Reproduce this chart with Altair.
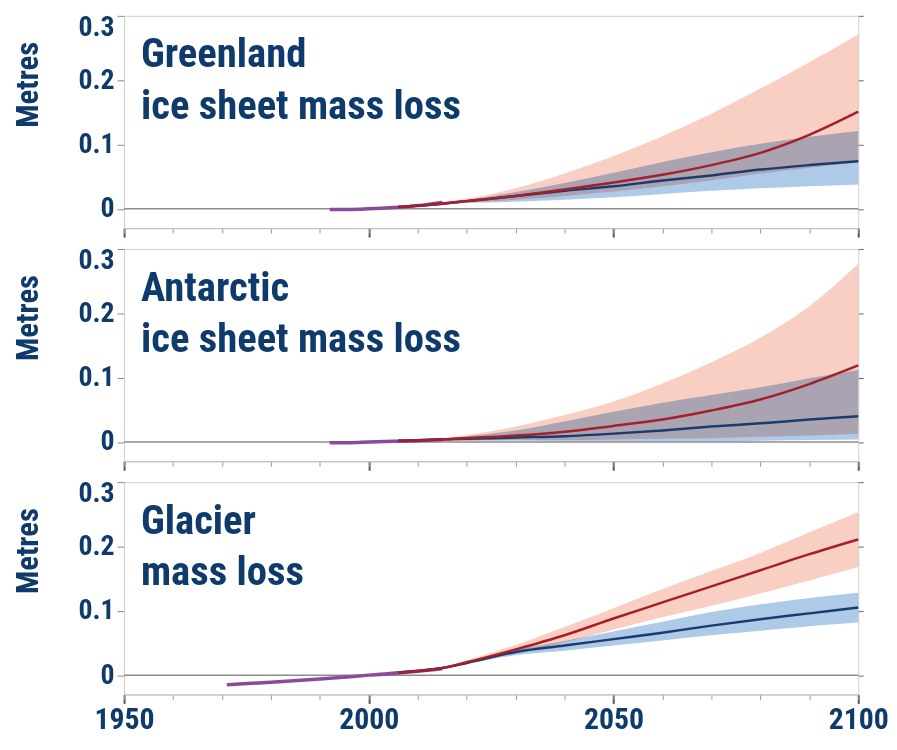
import altair as alt
import pandas as pd

FONT = "Liberation Sans Narrow, Arial Narrow, Roboto Condensed, sans-serif"
NAVY = "#0e3a6c"
RED_BAND = "#f9cfc3"
BLUE_BAND = "#aecae9"
RED_LINE = "#a51f2b"
BLUE_LINE = "#1c3a6e"
OBS = "#8b4b9a"

# projection years shared by all panels
proj_years = [2006, 2015, 2020, 2030, 2040, 2050, 2060, 2070, 2080, 2090, 2100]

# ---- Greenland ice sheet (metres) ----
gre_title = ["Greenland", "ice sheet mass loss"]
gre_obs_years = [1992, 1996, 2000, 2005, 2010, 2015]
gre_obs = [-0.001, -0.001, 0.0, 0.002, 0.005, 0.010]
gre_r_med = [0.003, 0.008, 0.012, 0.020, 0.030, 0.041, 0.053, 0.068, 0.087, 0.115, 0.151]
gre_r_hi = [0.003, 0.011, 0.016, 0.032, 0.055, 0.082, 0.113, 0.148, 0.187, 0.228, 0.271]
gre_r_lo = [0.003, 0.008, 0.010, 0.014, 0.020, 0.027, 0.035, 0.044, 0.055, 0.064, 0.073]
gre_b_med = [0.003, 0.008, 0.012, 0.020, 0.028, 0.035, 0.044, 0.052, 0.061, 0.068, 0.074]
gre_b_hi = [0.003, 0.010, 0.014, 0.026, 0.040, 0.056, 0.073, 0.088, 0.101, 0.112, 0.121]
gre_b_lo = [0.003, 0.007, 0.009, 0.011, 0.014, 0.018, 0.023, 0.028, 0.032, 0.035, 0.038]

# ---- Antarctic ice sheet ----
ant_title = ["Antarctic", "ice sheet mass loss"]
ant_obs_years = [1992, 1996, 2000, 2005, 2010, 2015]
ant_obs = [-0.001, -0.001, 0.0, 0.001, 0.002, 0.004]
ant_r_med = [0.002, 0.004, 0.006, 0.010, 0.016, 0.025, 0.035, 0.049, 0.066, 0.090, 0.119]
ant_r_hi = [0.002, 0.006, 0.011, 0.024, 0.042, 0.063, 0.091, 0.124, 0.162, 0.211, 0.277]
ant_r_lo = [0.002, 0.002, 0.002, 0.003, 0.003, 0.004, 0.005, 0.006, 0.008, 0.010, 0.013]
ant_b_med = [0.002, 0.004, 0.005, 0.007, 0.009, 0.013, 0.018, 0.024, 0.029, 0.035, 0.040]
ant_b_hi = [0.002, 0.005, 0.009, 0.018, 0.032, 0.047, 0.061, 0.073, 0.085, 0.099, 0.112]
ant_b_lo = [0.002, 0.003, 0.002, 0.002, 0.001, 0.001, 0.001, 0.001, 0.002, 0.003, 0.004]

# ---- Glaciers ----
gla_title = ["Glacier", "mass loss"]
gla_obs_years = [1971, 1980, 1990, 2000, 2010, 2015]
gla_obs = [-0.015, -0.011, -0.006, 0.0, 0.006, 0.010]
gla_r_med = [0.004, 0.011, 0.020, 0.040, 0.062, 0.088, 0.113, 0.138, 0.163, 0.188, 0.211]
gla_r_hi = [0.004, 0.012, 0.023, 0.047, 0.075, 0.104, 0.134, 0.162, 0.190, 0.222, 0.253]
gla_r_lo = [0.004, 0.010, 0.018, 0.034, 0.051, 0.071, 0.090, 0.108, 0.127, 0.147, 0.168]
gla_b_med = [0.004, 0.011, 0.019, 0.036, 0.046, 0.056, 0.066, 0.077, 0.087, 0.096, 0.105]
gla_b_hi = [0.004, 0.012, 0.021, 0.039, 0.053, 0.068, 0.083, 0.098, 0.110, 0.120, 0.128]
gla_b_lo = [0.004, 0.010, 0.017, 0.031, 0.038, 0.046, 0.054, 0.062, 0.069, 0.076, 0.082]

y_ticks = [0, 0.1, 0.2, 0.3]
x_minor = list(range(1950, 2101, 10))
x_major = [1950, 2000, 2050, 2100]

W, H = 740, 214


def panel(title_lines, obs_years, obs_vals, rm, rh, rl, bm, bh, bl, show_x_labels):
    proj = pd.DataFrame({"year": proj_years, "rm": rm, "rh": rh, "rl": rl,
                         "bm": bm, "bh": bh, "bl": bl})
    obs = pd.DataFrame({"year": obs_years, "v": obs_vals})
    xs = alt.Scale(domain=[1950, 2100], nice=False, zero=False)
    ys = alt.Scale(domain=[-0.03, 0.3], nice=False, zero=False)

    minor_axis = alt.Axis(
        orient="bottom", values=x_minor, grid=False, domain=True, domainColor="#bdbdbd",
        tickColor="#9a9a9a", tickWidth=1, tickSize=5, labels=False, title=None,
    )
    major_axis = alt.Axis(
        orient="bottom", values=x_major, grid=False, domain=False,
        tickColor="#555555", tickWidth=2, tickSize=9, labels=show_x_labels,
        labelOverlap=False, labelFlush=False, labelFontSize=30, labelPadding=1,
        labelFont=FONT, labelFontWeight="bold", labelColor=NAVY, format="d", title=None,
    )
    left_axis = alt.Axis(
        orient="left", values=y_ticks, format=".1~f", grid=False, domainColor="#cfcfcf",
        tickColor="#888888", tickSize=7, labelFontSize=28, labelFont=FONT,
        labelFontWeight="bold", labelColor=NAVY, labelPadding=3,
        labelFlush=True, labelFlushOffset=2,
        titleFont=FONT, titleFontSize=31, titleFontWeight="bold", titleColor=NAVY,
        titlePadding=34, titleY=69,
    )
    right_axis = alt.Axis(
        orient="right", values=y_ticks, labels=False, grid=False, domain=False,
        tickColor="#666666", tickSize=5, title=None,
    )

    zero = alt.Chart(pd.DataFrame({"z": [0.0]})).mark_rule(
        color="#8c8c8c", strokeWidth=1.5
    ).encode(y=alt.Y("z:Q", scale=ys, axis=right_axis, title=None))

    base = alt.Chart(proj)
    red_band = base.mark_area(color=RED_BAND, interpolate="monotone", blend="multiply").encode(
        x=alt.X("year:Q", scale=xs, axis=None),
        y=alt.Y("rh:Q", scale=ys, axis=left_axis, title="Metres"),
        y2="rl:Q",
    )
    blue_band = base.mark_area(color=BLUE_BAND, interpolate="monotone", blend="multiply").encode(
        x=alt.X("year:Q", scale=xs, axis=major_axis),
        y=alt.Y("bh:Q", scale=ys, axis=None),
        y2="bl:Q",
    )
    red_line = base.mark_line(color=RED_LINE, strokeWidth=2.5, interpolate="monotone").encode(
        x=alt.X("year:Q", scale=xs, axis=minor_axis),
        y=alt.Y("rm:Q", scale=ys, axis=None),
    )
    blue_line = base.mark_line(color=BLUE_LINE, strokeWidth=2.5, interpolate="monotone").encode(
        x=alt.X("year:Q", scale=xs, axis=None),
        y=alt.Y("bm:Q", scale=ys, axis=None),
    )
    obs_line = alt.Chart(obs).mark_line(color=OBS, strokeWidth=3.5, interpolate="monotone").encode(
        x=alt.X("year:Q", scale=xs, axis=None),
        y=alt.Y("v:Q", scale=ys, axis=None),
    )
    label = alt.Chart(pd.DataFrame({"t": [0]})).mark_text(
        align="left", baseline="alphabetic", font=FONT, fontSize=41,
        fontWeight="bold", color=NAVY, lineHeight=52,
    ).encode(x=alt.value(17), y=alt.value(52), text=alt.value(title_lines))

    return alt.layer(
        zero, red_band, blue_band, obs_line, blue_line, red_line, label
    ).resolve_axis(x="independent", y="independent").properties(width=W, height=H)


p1 = panel(gre_title, gre_obs_years, gre_obs, gre_r_med, gre_r_hi, gre_r_lo,
           gre_b_med, gre_b_hi, gre_b_lo, False)
p2 = panel(ant_title, ant_obs_years, ant_obs, ant_r_med, ant_r_hi, ant_r_lo,
           ant_b_med, ant_b_hi, ant_b_lo, False)
p3 = panel(gla_title, gla_obs_years, gla_obs, gla_r_med, gla_r_hi, gla_r_lo,
           gla_b_med, gla_b_hi, gla_b_lo, True)

chart = alt.vconcat(p1, p2, p3, spacing=7).properties(
    padding={"left": 4, "top": 2, "right": 0, "bottom": 0},
    background="white",
).configure_view(stroke="#cfcfcf", strokeWidth=1)

chart.save("out.html", embed_options={"renderer": "svg", "actions": False})
